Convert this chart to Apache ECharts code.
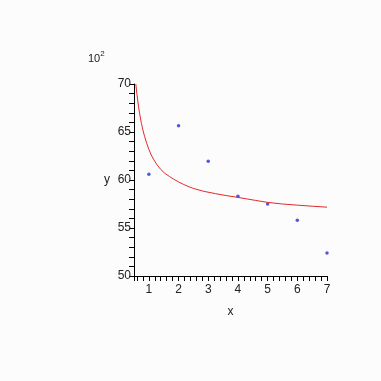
<!DOCTYPE html>
<html><head><meta charset="utf-8">
<script src="https://cdn.jsdelivr.net/npm/echarts@6/dist/echarts.min.js"></script>
<style>html,body{margin:0;padding:0;background:#fcfcfc;}#c{width:381px;height:381px;}</style>
</head><body><div id="c"></div>
<script>
// Data points (scaled by 10^2)
var pointX = [1, 2, 3, 4, 5, 6, 7];
var pointY = [60.6, 65.65, 61.95, 58.3, 57.5, 55.8, 52.4];
// Fitted curve
var curveX = [0.56, 0.6, 0.65, 0.69, 0.75, 0.8, 0.86, 0.93, 1.0, 1.08, 1.17, 1.26, 1.4, 1.54, 1.7, 1.83, 2.0, 2.16, 2.35, 2.5, 2.85, 3.24, 3.6, 3.92, 4.3, 4.6, 5.0, 5.5, 6.0, 6.5, 7.0];
var curveY = [70.0, 68.9, 67.7, 66.9, 65.9, 65.2, 64.5, 63.8, 63.2, 62.6, 62.1, 61.65, 61.1, 60.7, 60.35, 60.1, 59.8, 59.55, 59.3, 59.12, 58.82, 58.58, 58.38, 58.23, 58.03, 57.87, 57.67, 57.5, 57.38, 57.27, 57.17];
var yMajorLabels = ['50', '55', '60', '65', '70'];
var xMajorLabels = ['1', '2', '3', '4', '5', '6', '7'];

var chart = echarts.init(document.getElementById('c'));
var font = 'Liberation Sans, Arial, sans-serif';
chart.setOption({
  backgroundColor: '#fcfcfc',
  animation: false,
  grid: {left: 134, right: 54, top: 84, bottom: 105},
  xAxis: {
    type: 'value', min: 0.5, max: 7, splitNumber: 32, minInterval: 0.2, maxInterval: 0.2,
    name: 'x', nameLocation: 'middle', nameGap: 30,
    nameTextStyle: {color: '#222', fontSize: 12, fontFamily: font},
    axisLine: {lineStyle: {color: '#000', width: 1}},
    axisTick: {show: true, length: 5, lineStyle: {color: '#000'}},
    splitLine: {show: false},
    axisLabel: {color: '#222', fontSize: 12, fontFamily: font, margin: 8,
      formatter: function (v) {
        var r = Math.round(v);
        if (Math.abs(v - r) < 1e-6 && xMajorLabels.indexOf(String(r)) >= 0) return String(r);
        return '';
      }}
  },
  yAxis: {
    type: 'value', min: 50, max: 70, interval: 1,
    name: 'y', nameLocation: 'middle', nameGap: 24, nameRotate: 0,
    nameTextStyle: {color: '#222', fontSize: 12, fontFamily: font},
    axisLine: {show: true, lineStyle: {color: '#000', width: 1}},
    axisTick: {show: true, length: 5, lineStyle: {color: '#000'}},
    splitLine: {show: false},
    axisLabel: {color: '#222', fontSize: 12, fontFamily: font, margin: 3,
      formatter: function (v) {
        var s = String(Math.round(v));
        return yMajorLabels.indexOf(s) >= 0 && Math.abs(v - Math.round(v)) < 1e-6 ? s : '';
      }}
  },
  graphic: [{
    type: 'text', left: 88, top: 50,
    style: {text: '{b|10}{s|2}', rich: {
      b: {fontSize: 11, fontFamily: font, fill: '#222', verticalAlign: 'bottom'},
      s: {fontSize: 8, fontFamily: font, fill: '#222', verticalAlign: 'top', padding: [0, 0, 6, 0]}
    }}
  }],
  series: [{
    type: 'line', data: curveX.map(function (x, i) { return [x, curveY[i]]; }),
    showSymbol: false, smooth: false, lineStyle: {color: '#e02a2a', width: 1}
  }, {
    type: 'scatter', data: pointX.map(function (x, i) { return [x, pointY[i]]; }),
    symbol: 'circle', symbolSize: 3.5, itemStyle: {color: '#2a2ad8'}
  }]
});
</script></body></html>
